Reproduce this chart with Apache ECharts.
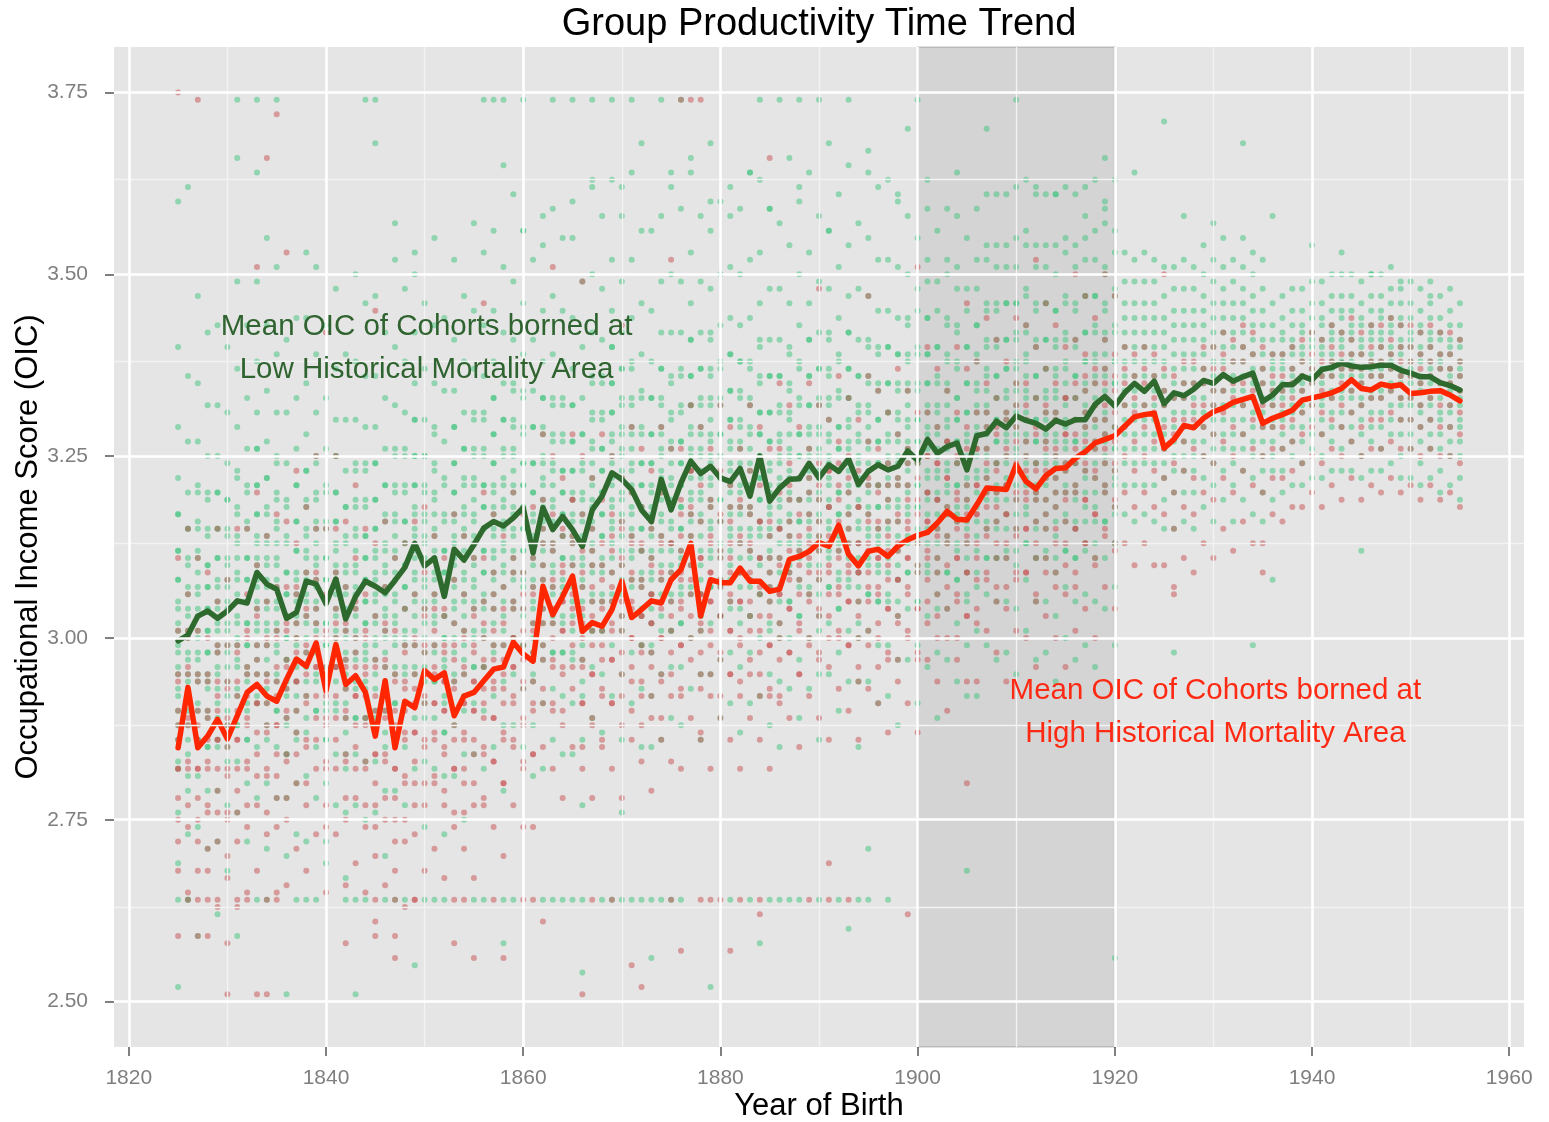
<!DOCTYPE html>
<html><head><meta charset="utf-8">
<script src="https://cdn.jsdelivr.net/npm/echarts@6/dist/echarts.min.js"></script>
<style>html,body{margin:0;padding:0;background:#fff}#c{width:1549px;height:1122px}</style>
</head><body><div id="c"></div>
<script>
// ---------- data ----------
const firstYear = 1825; // first cohort year, one column per year to 1955
const greenMean = [
2.996,3.004,3.030,3.037,3.027,3.037,3.051,3.048,3.090,3.074,
3.067,3.027,3.035,3.078,3.074,3.047,3.081,3.026,3.057,3.078,
3.071,3.062,3.079,3.097,3.130,3.099,3.110,3.057,3.122,3.107,
3.128,3.151,3.160,3.154,3.165,3.179,3.117,3.179,3.149,3.167,
3.149,3.126,3.176,3.195,3.227,3.218,3.204,3.176,3.160,3.218,
3.176,3.213,3.243,3.226,3.236,3.220,3.215,3.233,3.195,3.250,
3.188,3.206,3.218,3.219,3.240,3.220,3.238,3.229,3.246,3.211,
3.229,3.238,3.231,3.236,3.257,3.244,3.273,3.254,3.263,3.268,
3.231,3.278,3.281,3.298,3.289,3.305,3.299,3.295,3.287,3.299,
3.294,3.300,3.300,3.321,3.332,3.319,3.337,3.350,3.339,3.353,
3.322,3.337,3.333,3.342,3.354,3.350,3.362,3.353,3.359,3.364,
3.325,3.334,3.348,3.348,3.360,3.355,3.369,3.372,3.378,3.374,
3.372,3.373,3.375,3.375,3.368,3.364,3.359,3.359,3.351,3.347,
3.341];
const redMean = [
2.849,2.932,2.849,2.865,2.888,2.861,2.893,2.925,2.936,2.920,
2.913,2.943,2.971,2.961,2.993,2.927,2.991,2.936,2.948,2.925,
2.865,2.941,2.849,2.913,2.904,2.955,2.943,2.952,2.893,2.920,
2.925,2.941,2.957,2.960,2.994,2.978,2.968,3.071,3.032,3.057,
3.085,3.009,3.021,3.016,3.039,3.078,3.028,3.039,3.051,3.048,
3.080,3.094,3.130,3.030,3.080,3.076,3.076,3.096,3.078,3.078,
3.064,3.067,3.108,3.112,3.119,3.131,3.126,3.155,3.115,3.099,
3.119,3.122,3.112,3.126,3.135,3.141,3.145,3.158,3.174,3.163,
3.162,3.183,3.206,3.205,3.204,3.238,3.215,3.205,3.223,3.233,
3.234,3.247,3.256,3.268,3.273,3.278,3.291,3.304,3.307,3.309,
3.261,3.273,3.292,3.289,3.302,3.311,3.316,3.324,3.328,3.332,
3.295,3.302,3.307,3.313,3.327,3.330,3.333,3.337,3.343,3.355,
3.343,3.341,3.349,3.346,3.348,3.336,3.337,3.339,3.340,3.334,
3.326];
// individual cohort scores (OIC x 100), one row per birth year from 1825
const greenPts = [
[340,329,322,317,312,308,305,302,299,296,293,290,286,282,276,269],
[336,327,320,315,311,307,304,301,298,295,292,288,284,279,273,264],
[347,335,327,321,316,312,309,306,303,300,297,294,290,286,281,274],
[342,332,325,320,315,310,307,304,301,298,295,293,289,285,279,271],
[343,332,325,320,315,311,308,305,302,299,296,293,289,285,279,272],
[340,331,324,319,315,311,308,305,302,299,296,292,288,283,277,268],
[349,337,329,323,318,314,311,308,305,302,299,296,292,288,283,276],
[343,333,326,321,316,311,308,305,302,299,296,294,290,286,280,272],
[349,338,331,326,321,317,314,311,308,305,302,299,295,291,285,278],
[343,334,327,322,318,314,311,308,305,302,299,295,291,286,280,271],
[351,339,331,325,320,316,313,310,307,304,301,298,294,290,285,278],
[341,331,324,319,314,309,306,303,300,297,294,292,288,284,278,270],
[344,333,326,321,316,312,309,306,303,300,297,294,290,286,280,273],
[344,335,328,323,319,315,312,309,306,303,300,296,292,287,281,272],
[351,339,331,325,320,316,313,310,307,304,301,298,294,290,285,278],
[343,333,326,321,316,311,308,305,302,299,296,294,290,286,280,272],
[348,337,330,325,320,316,313,310,307,304,301,298,294,290,284,277],
[339,330,323,318,314,310,307,304,301,298,295,291,287,282,276,267],
[350,338,330,324,319,315,312,309,306,303,300,297,293,289,284,277],
[346,336,329,324,319,314,311,308,305,302,299,297,293,289,283,275],
[347,336,329,324,319,315,312,309,306,303,300,297,293,289,283,276],
[342,333,326,321,317,313,310,307,304,301,298,294,290,285,279,270],
[352,340,332,326,321,317,314,311,308,305,302,299,295,291,286,279],
[348,338,331,326,321,316,313,310,307,304,301,299,295,291,285,277],
[353,342,335,330,325,321,318,315,312,309,306,303,299,295,289,282],
[346,337,330,325,321,317,314,311,308,305,302,298,294,289,283,274],
[355,343,335,329,324,320,317,314,311,308,305,302,298,294,289,282],
[344,334,327,322,317,312,309,306,303,300,297,295,291,287,281,273],
[352,341,334,329,324,320,317,314,311,308,305,302,298,294,288,281],
[347,338,331,326,322,318,315,312,309,306,303,299,295,290,284,275],
[357,345,337,331,326,322,319,316,313,310,307,304,300,296,291,284],
[353,343,336,331,326,321,318,315,312,309,306,304,300,296,290,282],
[356,345,338,333,328,324,321,318,315,312,309,306,302,298,292,285],
[351,342,335,330,326,322,319,316,313,310,307,303,299,294,288,279],
[361,349,341,335,330,326,323,320,317,314,311,308,304,300,295,288],
[356,346,339,334,329,324,321,318,315,312,309,307,303,299,293,285],
[352,341,334,329,324,320,317,314,311,308,305,302,298,294,288,281],
[354,345,338,333,329,325,322,319,316,313,310,306,302,297,291,282],
[359,347,339,333,328,324,321,318,315,312,309,306,302,298,293,286],
[355,345,338,333,328,323,320,317,314,311,308,306,302,298,292,284],
[355,344,337,332,327,323,320,317,314,311,308,305,301,297,291,284],
[349,340,333,328,324,320,317,314,311,308,305,301,297,292,286,277],
[362,350,342,336,331,327,324,321,318,315,312,309,305,301,296,289],
[358,348,341,336,331,326,323,320,317,314,311,309,305,301,295,287],
[363,352,345,340,335,331,328,325,322,319,316,313,309,305,299,292],
[358,349,342,337,333,329,326,323,320,317,314,310,306,301,295,286],
[364,352,344,338,333,329,326,323,320,317,314,311,307,303,298,291],
[356,346,339,334,329,324,321,318,315,312,309,307,303,299,293,285],
[356,345,338,333,328,324,321,318,315,312,309,306,302,298,292,285],
[358,349,342,337,333,329,326,323,320,317,314,310,306,301,295,286],
[362,350,342,336,331,327,324,321,318,315,312,309,305,301,296,289],
[359,349,342,337,332,327,324,321,318,315,312,310,306,302,296,288],
[364,353,346,341,336,332,329,326,323,320,317,314,310,306,300,293],
[358,349,342,337,333,329,326,323,320,317,314,310,306,301,295,286],
[368,356,348,342,337,333,330,327,324,321,318,315,311,307,302,295],
[360,350,343,338,333,328,325,322,319,316,313,311,307,303,297,289],
[362,351,344,339,334,330,327,324,321,318,315,312,308,304,298,291],
[359,350,343,338,334,330,327,324,321,318,315,311,307,302,296,287],
[364,352,344,338,333,329,326,323,320,317,314,311,307,303,298,291],
[363,353,346,341,336,331,328,325,322,319,316,314,310,306,300,292],
[359,348,341,336,331,327,324,321,318,315,312,309,305,301,295,288],
[357,348,341,336,332,328,325,322,319,316,313,309,305,300,294,285],
[366,354,346,340,335,331,328,325,322,319,316,313,309,305,300,293],
[360,350,343,338,333,328,325,322,319,316,313,311,307,303,297,289],
[364,353,346,341,336,332,329,326,323,320,317,314,310,306,300,293],
[358,349,342,337,333,329,326,323,320,317,314,310,306,301,295,286],
[368,356,348,342,337,333,330,327,324,321,318,315,311,307,302,295],
[361,351,344,339,334,329,326,323,320,317,314,312,308,304,298,290],
[365,354,347,342,337,333,330,327,324,321,318,315,311,307,301,294],
[357,348,341,336,332,328,325,322,319,316,313,309,305,300,294,285],
[367,355,347,341,336,332,329,326,323,320,317,314,310,306,301,294],
[362,352,345,340,335,330,327,324,321,318,315,313,309,305,299,291],
[363,352,345,340,335,331,328,325,322,319,316,313,309,305,299,292],
[360,351,344,339,335,331,328,325,322,319,316,312,308,303,297,288],
[370,358,350,344,339,335,332,329,326,323,320,317,313,309,304,297],
[355,348,345,340,335,330,327,324,321,318,315,313,309,305,299,291],
[359,352,349,344,339,335,332,329,326,323,320,317,313,309,303,296],
[356,349,345,340,336,332,329,326,323,320,317,313,309,304,298,289],
[359,352,350,344,339,335,332,329,326,323,320,317,313,309,304,297],
[358,351,348,343,338,333,330,327,324,321,318,316,312,308,302,294],
[355,348,345,340,335,331,328,325,322,319,316,313,309,305,299,292],
[359,352,348,343,339,335,332,329,326,323,320,316,312,307,301,292],
[361,354,352,346,341,337,334,331,328,325,322,319,315,311,306,299],
[361,354,351,346,341,336,333,330,327,324,321,319,315,311,305,297],
[361,354,351,346,341,337,334,331,328,325,322,319,315,311,305,298],
[362,355,351,346,342,338,335,332,329,326,323,319,315,310,304,295],
[363,356,354,348,343,339,336,333,330,327,324,321,317,313,308,301],
[361,354,351,346,341,336,333,330,327,324,321,319,315,311,305,297],
[361,354,351,346,341,337,334,331,328,325,322,319,315,311,305,298],
[361,354,350,345,341,337,334,331,328,325,322,318,314,309,303,294],
[362,355,353,347,342,338,335,332,329,326,323,320,316,312,307,300],
[361,354,351,346,341,336,333,330,327,324,321,319,315,311,305,297],
[362,355,352,347,342,338,335,332,329,326,323,320,316,312,306,299],
[363,356,352,347,343,339,336,333,330,327,324,320,316,311,305,296],
[366,359,357,351,346,342,339,336,333,330,327,324,320,316,311,304],
[363,356,353,348,343,338,335,332,329,326,323,321,317,313,307,299],
[353,349,346,344,342,340,338,336,334,332,330,328,326,324,321,317],
[352,349,346,344,342,340,338,336,334,332,330,328,326,324,321,316],
[353,349,346,344,342,340,338,336,334,332,330,328,326,324,321,317],
[352,349,346,344,342,340,338,336,334,332,330,328,326,324,321,316],
[351,347,344,342,340,338,336,334,332,330,328,326,324,322,319,315],
[351,348,345,343,341,339,337,335,333,331,329,327,325,323,320,315],
[352,348,345,343,341,339,337,335,333,331,329,327,325,323,320,316],
[351,348,345,343,341,339,337,335,333,331,329,327,325,323,320,315],
[354,350,347,345,343,341,339,337,335,333,331,329,327,325,322,318],
[352,349,346,344,342,340,338,336,334,332,330,328,326,324,321,316],
[355,351,348,346,344,342,340,338,336,334,332,330,328,326,323,319],
[352,349,346,344,342,340,338,336,334,332,330,328,326,324,321,316],
[355,351,348,346,344,342,340,338,336,334,332,330,328,326,323,319],
[353,350,347,345,343,341,339,337,335,333,331,329,327,325,322,317],
[352,348,345,343,341,339,337,335,333,331,329,327,325,323,320,316],
[346,343,341,339,338,337,335,334,333,332,330,329,327,325,323,319],
[347,344,342,341,339,338,337,335,334,333,331,330,328,326,323,320],
[348,345,343,341,340,339,337,336,335,334,332,331,329,327,325,321],
[348,345,343,342,340,339,338,336,335,334,332,331,329,327,324,321],
[349,346,344,342,341,340,338,337,336,335,333,332,330,328,326,322],
[349,346,344,343,341,340,339,337,336,335,333,332,330,328,325,322],
[350,347,345,343,342,341,339,338,337,336,334,333,331,329,327,323],
[350,347,345,344,342,341,340,338,337,336,334,333,331,329,326,323],
[350,347,345,343,342,341,339,338,337,336,334,333,331,329,327,323],
[349,346,344,343,341,340,339,337,336,335,333,332,330,328,325,322],
[350,347,345,343,342,341,339,338,337,336,334,333,331,329,327,323],
[350,347,345,344,342,341,340,338,337,336,334,333,331,329,326,323],
[351,348,346,344,343,342,340,339,338,337,335,334,332,330,328,324],
[349,346,344,343,341,340,339,337,336,335,333,332,330,328,325,322],
[349,346,344,342,341,340,338,337,336,335,333,332,330,328,326,322],
[348,345,343,342,340,339,338,336,335,334,332,331,329,327,324,321],
[349,346,344,342,341,340,338,337,336,335,333,332,330,328,326,322],
[347,344,342,341,339,338,337,335,334,333,331,330,328,326,323,320],
[348,345,343,341,340,339,337,336,335,334,332,331,329,327,325,321],
[346,343,341,340,338,337,336,334,333,332,330,329,327,325,322,319]
];
// additional cohorts in the dense core of each column, 1825-1920
const greenDense = [
[317,312,308,304,301,298,295,292,288,283],[315,310,306,303,300,297,294,290,286,281],
[320,315,311,307,304,301,298,295,291,286],[319,314,310,307,304,301,298,294,290,285],
[320,315,311,307,304,301,298,295,291,286],[319,314,310,307,304,301,298,294,290,285],
[322,317,313,309,306,303,300,297,293,288],[320,315,311,308,305,302,299,295,291,286],
[326,321,317,313,310,307,304,301,297,292],[322,317,313,310,307,304,301,297,293,288],
[324,319,315,311,308,305,302,299,295,290],[318,313,309,306,303,300,297,293,289,284],
[321,316,312,308,305,302,299,296,292,287],[323,318,314,311,308,305,302,298,294,289],
[324,319,315,311,308,305,302,299,295,290],[320,315,311,308,305,302,299,295,291,286],
[325,320,316,312,309,306,303,300,296,291],[318,313,309,306,303,300,297,293,289,284],
[323,318,314,310,307,304,301,298,294,289],[323,318,314,311,308,305,302,298,294,289],
[324,319,315,311,308,305,302,299,295,290],[321,316,312,309,306,303,300,296,292,287],
[325,320,316,312,309,306,303,300,296,291],[325,320,316,313,310,307,304,300,296,291],
[330,325,321,317,314,311,308,305,301,296],[325,320,316,313,310,307,304,300,296,291],
[328,323,319,315,312,309,306,303,299,294],[321,316,312,309,306,303,300,296,292,287],
[329,324,320,316,313,310,307,304,300,295],[326,321,317,314,311,308,305,301,297,292],
[330,325,321,317,314,311,308,305,301,296],[330,325,321,318,315,312,309,305,301,296],
[333,328,324,320,317,314,311,308,304,299],[330,325,321,318,315,312,309,305,301,296],
[334,329,325,321,318,315,312,309,305,300],[333,328,324,321,318,315,312,308,304,299],
[329,324,320,316,313,310,307,304,300,295],[333,328,324,321,318,315,312,308,304,299],
[332,327,323,319,316,313,310,307,303,298],[332,327,323,320,317,314,311,307,303,298],
[332,327,323,319,316,313,310,307,303,298],[328,323,319,316,313,310,307,303,299,294],
[335,330,326,322,319,316,313,310,306,301],[335,330,326,323,320,317,314,310,306,301],
[340,335,331,327,324,321,318,315,311,306],[337,332,328,325,322,319,316,312,308,303],
[337,332,328,324,321,318,315,312,308,303],[333,328,324,321,318,315,312,308,304,299],
[333,328,324,320,317,314,311,308,304,299],[337,332,328,325,322,319,316,312,308,303],
[335,330,326,322,319,316,313,310,306,301],[336,331,327,324,321,318,315,311,307,302],
[341,336,332,328,325,322,319,316,312,307],[337,332,328,325,322,319,316,312,308,303],
[341,336,332,328,325,322,319,316,312,307],[337,332,328,325,322,319,316,312,308,303],
[339,334,330,326,323,320,317,314,310,305],[338,333,329,326,323,320,317,313,309,304],
[337,332,328,324,321,318,315,312,308,303],[340,335,331,328,325,322,319,315,311,306],
[336,331,327,323,320,317,314,311,307,302],[336,331,327,324,321,318,315,311,307,302],
[339,334,330,326,323,320,317,314,310,305],[337,332,328,325,322,319,316,312,308,303],
[341,336,332,328,325,322,319,316,312,307],[337,332,328,325,322,319,316,312,308,303],
[341,336,332,328,325,322,319,316,312,307],[338,333,329,326,323,320,317,313,309,304],
[342,337,333,329,326,323,320,317,313,308],[336,331,327,324,321,318,315,311,307,302],
[340,335,331,327,324,321,318,315,311,306],[339,334,330,327,324,321,318,314,310,305],
[340,335,331,327,324,321,318,315,311,306],[339,334,330,327,324,321,318,314,310,305],
[343,338,334,330,327,324,321,318,314,309],[339,334,330,327,324,321,318,314,310,305],
[344,339,335,331,328,325,322,319,315,310],[340,335,331,328,325,322,319,315,311,306],
[343,338,334,330,327,324,321,318,314,309],[342,337,333,330,327,324,321,317,313,308],
[340,335,331,327,324,321,318,315,311,306],[343,338,334,331,328,325,322,318,314,309],
[345,340,336,332,329,326,323,320,316,311],[345,340,336,333,330,327,324,320,316,311],
[346,341,337,333,330,327,324,321,317,312],[346,341,337,334,331,328,325,321,317,312],
[347,342,338,334,331,328,325,322,318,313],[345,340,336,333,330,327,324,320,316,311],
[346,341,337,333,330,327,324,321,317,312],[345,340,336,333,330,327,324,320,316,311],
[346,341,337,333,330,327,324,321,317,312],[345,340,336,333,330,327,324,320,316,311],
[347,342,338,334,331,328,325,322,318,313],[347,342,338,335,332,329,326,322,318,313],
[350,345,341,337,334,331,328,325,321,316],[347,342,338,335,332,329,326,322,318,313]
];
const redPts = [
[311,301,294,288,282,275,268,259],[315,306,300,295,289,282,274,265],
[311,301,294,288,282,275,268,259],[309,300,294,289,283,276,268,259],
[315,305,298,292,286,279,272,263],[308,299,293,288,282,275,267,258],
[315,305,298,292,286,279,272,263],[315,306,300,295,289,282,274,265],
[320,310,303,297,291,284,277,268],[314,305,299,294,288,281,273,264],
[317,307,300,294,288,281,274,265],[316,307,301,296,290,283,275,266],
[323,313,306,300,294,287,280,271],[318,309,303,298,292,285,277,268],
[325,315,308,302,296,289,282,273],[315,306,300,295,289,282,274,265],
[325,315,308,302,296,289,282,273],[316,307,301,296,290,283,275,266],
[321,311,304,298,292,285,278,269],[315,306,300,295,289,282,274,265],
[313,303,296,290,284,277,270,261],[316,307,301,296,290,283,275,266],
[311,301,294,288,282,275,268,259],[313,304,298,293,287,280,272,263],
[316,306,299,293,287,280,273,264],[318,309,303,298,292,285,277,268],
[314,306,301,296,291,286,280,271],[311,304,299,294,290,284,277,267],
[317,308,302,297,293,288,282,274],[314,306,301,296,291,286,280,271],
[311,304,299,294,290,284,277,267],[320,311,305,300,296,291,285,277],
[317,309,304,299,294,289,283,274],[314,307,302,297,293,287,280,270],
[320,311,305,300,296,291,285,277],[317,309,304,299,294,289,283,274],
[318,311,306,301,297,291,284,274],[328,319,313,308,304,299,293,285],
[325,317,312,307,302,297,291,282],[322,315,310,305,301,295,288,278],
[328,319,313,308,304,299,293,285],[325,317,312,307,302,297,291,282],
[322,315,310,305,301,295,288,278],[328,319,313,308,304,299,293,285],
[325,317,312,307,302,297,291,282],[322,315,310,305,301,295,288,278],
[329,320,314,309,305,300,294,286],[326,318,313,308,303,298,292,283],
[323,316,311,306,302,296,289,279],[329,320,314,309,305,300,294,286],
[326,318,313,308,303,298,292,283],[326,319,314,309,305,299,292,282],
[332,323,317,312,308,303,297,289],[329,321,316,311,306,301,295,286],
[326,319,314,309,305,299,292,282],[332,323,317,312,308,303,297,289],
[329,321,316,311,306,301,295,286],[326,319,314,309,305,299,292,282],
[332,323,317,312,308,303,297,289],[329,321,316,311,306,301,295,286],
[326,319,314,309,305,299,292,282],[335,326,320,315,311,306,300,292],
[332,324,319,314,309,304,298,289],[329,322,317,312,308,302,295,285],
[335,326,320,315,311,306,300,292],[332,324,319,314,309,304,298,289],
[330,323,318,313,309,303,296,286],[336,327,321,316,312,307,301,293],
[333,325,320,315,310,305,299,290],[330,323,318,313,309,303,296,286],
[336,327,321,316,312,307,301,293],[334,326,321,316,311,306,300,291],
[331,324,319,314,310,304,297,287],[337,328,322,317,313,308,302,294],
[334,326,321,316,311,306,300,291],[331,324,319,314,310,304,297,287],
[340,331,325,320,316,311,305,297],[337,329,324,319,314,309,303,294],
[334,327,322,317,313,307,300,290],[340,331,325,320,316,311,305,297],
[337,329,324,319,314,309,303,294],[338,331,326,321,317,311,304,294],
[344,335,329,324,320,315,309,301],[341,333,328,323,318,313,307,298],
[338,331,326,321,317,311,304,294],[344,335,329,324,320,315,309,301],
[343,335,330,325,320,315,309,300],[340,333,328,323,319,313,306,296],
[346,337,331,326,322,317,311,303],[343,335,330,325,320,315,309,300],
[340,333,328,323,319,313,306,296],[350,341,335,330,326,321,315,307],
[347,339,334,329,324,319,313,304],[344,337,332,327,323,317,310,300],
[350,341,335,330,326,321,315,307],[347,339,334,329,324,319,313,304],
[340,337,335,332,329,325,320,313],[339,336,333,331,327,323,318,310],
[340,337,335,332,329,325,320,313],[339,336,333,331,327,323,318,310],
[337,334,332,329,326,322,317,310],[336,333,330,328,324,320,315,307],
[338,335,333,330,327,323,318,311],[338,335,332,330,326,322,317,309],
[340,337,335,332,329,325,320,313],[340,337,334,332,328,324,319,311],
[342,339,337,334,331,327,322,315],[341,338,335,333,329,325,320,312],
[343,340,338,335,332,328,323,316],[342,339,336,334,330,326,321,313],
[340,337,335,332,329,325,320,313],[339,336,334,332,329,326,322,317],
[339,336,334,332,329,326,322,316],[340,337,335,333,330,327,323,318],
[341,338,336,334,331,328,324,318],[342,339,337,335,332,329,325,320],
[341,338,336,334,331,328,324,318],[343,340,338,336,333,330,326,321],
[342,339,337,335,332,329,325,319],[344,341,339,337,334,331,327,322],
[342,339,337,335,332,329,325,319],[343,340,338,336,333,330,326,321],
[343,340,338,336,333,330,326,320],[344,341,339,337,334,331,327,322],
[343,340,338,336,333,330,326,320],[343,340,338,336,333,330,326,321],
[342,339,337,335,332,329,325,319],[343,340,338,336,333,330,326,321],
[342,339,337,335,332,329,325,319],[342,339,337,335,332,329,325,320],
[341,338,336,334,331,328,324,318]
];
const redDense = [
[295,290,286,282,278,272],[301,296,292,288,283,277],[295,290,286,282,278,272],[295,290,286,282,277,271],
[299,294,290,286,282,276],[294,289,285,281,276,270],[299,294,290,286,282,276],[301,296,292,288,283,277],
[304,299,295,291,287,281],[300,295,291,287,282,276],[301,296,292,288,284,278],[302,297,293,289,284,278],
[307,302,298,294,290,284],[304,299,295,291,286,280],[309,304,300,296,292,286],[301,296,292,288,283,277],
[309,304,300,296,292,286],[302,297,293,289,284,278],[305,300,296,292,288,282],[301,296,292,288,283,277],
[297,292,288,284,280,274],[302,297,293,289,284,278],[295,290,286,282,278,272],[299,294,290,286,281,275],
[300,295,291,287,283,277],[304,299,295,291,286,280],[304,299,295,291,287,281],[303,298,294,290,285,279],
[299,294,290,286,282,276],[300,295,291,287,282,276],[303,298,294,290,286,280],[302,297,293,289,284,278],
[306,301,297,293,289,283],[304,299,295,291,286,280],[309,304,300,296,292,286],[306,301,297,293,288,282],
[307,302,298,294,290,284],[315,310,306,302,297,291],[313,308,304,300,296,290],[314,309,305,301,296,290],
[319,314,310,306,302,296],[309,304,300,296,291,285],[312,307,303,299,295,289],[310,305,301,297,292,286],
[314,309,305,301,297,291],[316,311,307,303,298,292],[313,308,304,300,296,290],[312,307,303,299,294,288],
[315,310,306,302,298,292],[313,308,304,300,295,289],[318,313,309,305,301,295],[317,312,308,304,299,293],
[323,318,314,310,306,300],[311,306,302,298,293,287],[318,313,309,305,301,295],[316,311,307,303,298,292],
[318,313,309,305,301,295],[318,313,309,305,300,294],[318,313,309,305,301,295],[316,311,307,303,298,292],
[316,311,307,303,299,293],[315,310,306,302,297,291],[321,316,312,308,304,298],[319,314,310,306,301,295],
[322,317,313,309,305,299],[321,316,312,308,303,297],[323,318,314,310,306,300],[324,319,315,311,306,300],
[322,317,313,309,305,299],[318,313,309,305,300,294],[322,317,313,309,305,299],[320,315,311,307,302,296],
[321,316,312,308,304,298],[321,316,312,308,303,297],[324,319,315,311,307,301],[322,317,313,309,304,298],
[325,320,316,312,308,302],[324,319,315,311,306,300],[327,322,318,314,310,304],[324,319,315,311,306,300],
[326,321,317,313,309,303],[326,321,317,313,308,302],[331,326,322,318,314,308],[329,324,320,316,311,305],
[330,325,321,317,313,307],[332,327,323,319,314,308],[332,327,323,319,315,309],[329,324,320,316,311,305],
[332,327,323,319,315,309],[331,326,322,318,313,307],[333,328,324,320,316,310],[333,328,324,320,315,309],
[336,331,327,323,319,313],[335,330,326,322,317,311],[337,332,328,324,320,314],[336,331,327,323,318,312]
];
// cohorts sitting exactly on the 2.64 floor and the 3.74 ceiling
const greenRow264 = [1825,1826,1833,1834,1837,1838,1839,1842,1843,1844,1846,1847,1848,1850,1851,1852,1855,1856,1858,1859,1862,1863,1864,1865,1866,1868,1869,1870,1871,1872,1873,1874,1875,1876,1881,1883,1885,1886,1887,1888,1890,1892,1894,1895,1897];
const redRow264 = [1826,1827,1828,1829,1831,1832,1835,1845,1847,1849,1853,1854,1857,1860,1861,1867,1869,1875,1878,1879,1880,1882,1884,1889,1891,1893];
const greenTop374 = [1831,1833,1835,1844,1845,1856,1857,1858,1860,1863,1865,1867,1869,1871,1874,1876,1884,1886,1888,1890,1893,1900,1910];
const redTop374 = [1827,1876,1877,1878];
// scattered outlying cohorts [year, OIC x 100]
const greenExtra = [[1825,360],[1826,362],[1831,366],[1833,364],[1834,355],[1838,353],[1845,368],[1847,357],[1849,350],[1858,365],[1860,356],[1862,358],[1865,360],[1867,363],[1870,362],[1872,368],[1875,364],[1877,366],[1879,360],[1881,358],[1883,364],[1885,359],[1888,362],[1891,356],[1895,364],[1898,361],[1901,363],[1904,364],[1907,370],[1912,362],[1914,361],[1917,358],[1919,360],[1922,364],[1925,371],[1927,358],[1930,357],[1933,368],[1936,358],[1940,354],[1943,353],[1946,350],[1949,348],[1952,347],
[1825,252],[1827,259],[1829,262],[1831,259],[1836,251],[1840,269],[1843,251],[1849,255],[1858,258],[1866,254],[1870,276],[1873,256],[1879,252],[1884,258],[1893,260],[1895,271],[1905,268],[1920,256],[1926,298],[1934,299],[1936,308],[1945,312]];
const redExtra = [[1825,375],[1834,366],[1835,372],[1833,351],[1836,353],[1840,342],[1845,345],[1856,346],[1863,351],[1866,349],[1870,343],[1875,352],[1885,366],[1890,348],[1895,347],[1900,351],[1905,346],[1912,352],[1925,350],
[1830,251],[1833,251],[1834,251],[1842,258],[1845,259],[1847,256],[1853,258],[1855,256],[1858,256],[1862,261],[1866,251],[1871,255],[1872,252],[1876,257],[1881,257],[1884,262],[1891,269],[1899,262],[1905,280],[1916,301],[1926,306],[1935,309]];
const xTicks = [1820,1840,1860,1880,1900,1920,1940,1960];
const yTicks = [2.50,2.75,3.00,3.25,3.50,3.75];
const xMinor = [1830,1850,1870,1890,1910,1930,1950];
const yMinor = [2.625,2.875,3.125,3.375,3.625];
const shadeYears = [1900,1920];
const titleText = 'Group Productivity Time Trend';
const xTitle = 'Year of Birth';
const yTitle = 'Occupational Income Score (OIC)';
const lowNote = 'Mean OIC of Cohorts borned at\nLow Historical Mortality Area';
const highNote = 'Mean OIC of Cohorts borned at\nHigh Historical Mortality Area';
const lowNotePos = [1850.2, 3.398];
const highNotePos = [1930.2, 2.897];

// ---------- build ----------
const FONT = '"Liberation Sans", Arial, Helvetica, sans-serif';
const greenData = [], redData = [];
const addRows = (rows, out) => rows.forEach((col, i) => col.forEach(v => out.push([firstYear + i, v / 100])));
addRows(greenPts, greenData);
addRows(greenDense, greenData);
greenRow264.forEach(y => greenData.push([y, 2.64]));
greenTop374.forEach(y => greenData.push([y, 3.74]));
greenExtra.forEach(p => greenData.push([p[0], p[1] / 100]));
addRows(redPts, redData);
addRows(redDense, redData);
redRow264.forEach(y => redData.push([y, 2.64]));
redTop374.forEach(y => redData.push([y, 3.74]));
redExtra.forEach(p => redData.push([p[0], p[1] / 100]));
const greenLine = greenMean.map((v, i) => [firstYear + i, v]);
const redLine = redMean.map((v, i) => [firstYear + i, v]);

const major = {color: '#ffffff', width: 2.6, type: 'solid'};
const minor = {color: '#f3f3f3', width: 1.3, type: 'solid'};
const gridLines = [].concat(
  xMinor.map(v => ({xAxis: v, lineStyle: minor})),
  yMinor.map(v => ({yAxis: v, lineStyle: minor})),
  xTicks.map(v => ({xAxis: v, lineStyle: major})),
  yTicks.map(v => ({yAxis: v, lineStyle: major}))
);
const noteLabel = (text, color) => ({show: true, position: 'inside', formatter: text, color: color, opacity: 1,
  fontSize: 29.5, lineHeight: 43, fontFamily: FONT, align: 'center', verticalAlign: 'middle'});

const chart = echarts.init(document.getElementById('c'), null, {renderer: 'canvas'});
chart.setOption({
  animation: false,
  backgroundColor: '#ffffff',
  grid: {left: 114, right: 25, top: 47, bottom: 75, show: true, backgroundColor: '#e5e5e5', borderWidth: 0},
  xAxis: {
    type: 'value', min: 1818.5, max: 1961.5,
    axisLine: {show: false},
    splitLine: {show: false},
    axisTick: {show: true, customValues: xTicks, length: 9, lineStyle: {color: '#7f7f7f', width: 2}},
    axisLabel: {customValues: xTicks, color: '#7f7f7f', fontSize: 21, fontFamily: FONT, margin: 21,
      formatter: v => String(v)}
  },
  yAxis: {
    type: 'value', min: 2.4375, max: 3.8125,
    axisLine: {show: false},
    splitLine: {show: false},
    axisTick: {show: true, customValues: yTicks, length: 9, lineStyle: {color: '#7f7f7f', width: 2}},
    axisLabel: {customValues: yTicks, color: '#7f7f7f', fontSize: 21, fontFamily: FONT, margin: 26,
      formatter: v => v.toFixed(2)}
  },
  graphic: [
    {type: 'text', x: 819, y: 25, z: 10, style: {text: titleText, font: '38px ' + FONT, fill: '#000',
      align: 'center', verticalAlign: 'middle', textAlign: 'center', textVerticalAlign: 'middle'}},
    {type: 'text', x: 819, y: 1106, z: 10, style: {text: xTitle, font: '31px ' + FONT, fill: '#000',
      align: 'center', verticalAlign: 'middle', textAlign: 'center', textVerticalAlign: 'middle'}},
    {type: 'text', x: 28, y: 547, rotation: Math.PI / 2, z: 10, style: {text: yTitle, font: '31px ' + FONT, fill: '#000',
      align: 'center', verticalAlign: 'middle', textAlign: 'center', textVerticalAlign: 'middle'}}
  ],
  series: [
    {type: 'scatter', z: 1, silent: true, symbolSize: 0, data: [[1818.5, 2.4375]], itemStyle: {color: 'rgba(0,0,0,0)'},
      markLine: {silent: true, symbol: ['none', 'none'], label: {show: false}, animation: false, data: gridLines}},
    {type: 'scatter', z: 2, silent: true, symbolSize: 0, data: [[1818.5, 2.4375]], itemStyle: {color: 'rgba(0,0,0,0)'},
      markArea: {silent: true, animation: false,
        itemStyle: {color: 'rgba(0,0,0,0.075)', borderColor: 'rgba(0,0,0,0.12)', borderWidth: 2},
        data: [[{xAxis: shadeYears[0]}, {xAxis: shadeYears[1]}]]}},
    {type: 'scatter', name: 'low', z: 3, silent: true, progressive: 0, symbolSize: 6,
      itemStyle: {color: '#3cc47c', opacity: 0.5}, data: greenData},
    {type: 'scatter', name: 'high', z: 3, silent: true, progressive: 0, symbolSize: 6,
      itemStyle: {color: '#c85050', opacity: 0.5}, data: redData},
    {type: 'line', z: 4, silent: true, symbol: 'none', data: greenLine,
      lineStyle: {color: '#2e6a2e', width: 5.5, join: 'round', cap: 'round'}},
    {type: 'line', z: 4, silent: true, symbol: 'none', data: redLine,
      lineStyle: {color: '#ff2600', width: 5.5, join: 'round', cap: 'round'}},
    {type: 'scatter', z: 5, silent: true, symbolSize: 1, itemStyle: {color: 'rgba(0,0,0,0)', opacity: 1}, data: [lowNotePos],
      label: noteLabel(lowNote, '#2f632f')},
    {type: 'scatter', z: 5, silent: true, symbolSize: 1, itemStyle: {color: 'rgba(0,0,0,0)', opacity: 1}, data: [highNotePos],
      label: noteLabel(highNote, '#ff2a14')}
  ]
});
</script>
</body></html>
